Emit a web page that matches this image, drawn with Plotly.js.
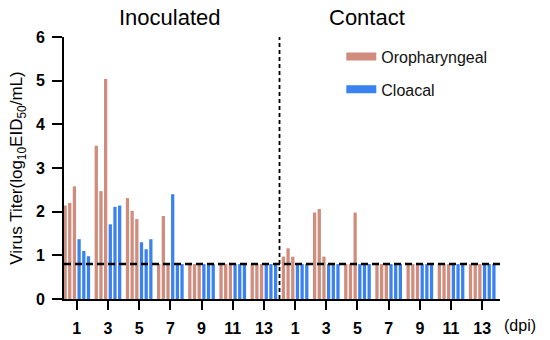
<!DOCTYPE html>
<html>
<head>
<meta charset="utf-8">
<script src="https://cdn.plot.ly/plotly-3.0.1.min.js"></script>
<style>html,body{margin:0;padding:0;background:#fff;}#chart{width:550px;height:340px;}</style>
</head>
<body>
<div id="chart"></div>
<script>
// ---- data ----
const dpiLabels = ['1', '3', '5', '7', '9', '11', '13'];
const groupNames = ['Inoculated', 'Contact'];
const LOD = 0.8;
// Oropharyngeal swabs, birds 1-3 (Inoculated dpi 1..13, then Contact dpi 1..13)
const oroBird1 = [2.14, 3.51, 2.31, 0.8, 0.8, 0.8, 0.8,   0.97, 1.98, 0.8, 0.8, 0.8, 0.8, 0.8];
const oroBird2 = [2.20, 2.47, 2.02, 1.90, 0.8, 0.8, 0.8,  1.16, 2.06, 0.8, 0.8, 0.8, 0.8, 0.8];
const oroBird3 = [2.58, 5.04, 1.83, 0.8, 0.8, 0.8, 0.8,   0.97, 0.97, 1.98, 0.8, 0.8, 0.8, 0.8];
// Cloacal swabs, birds 1-3
const cloBird1 = [1.37, 1.71, 1.30, 2.40, 0.8, 0.8, 0.8,  0.8, 0.8, 0.8, 0.8, 0.8, 0.8, 0.8];
const cloBird2 = [1.10, 2.11, 1.14, 0.8, 0.8, 0.8, 0.8,   0.8, 0.8, 0.8, 0.8, 0.8, 0.8, 0.8];
const cloBird3 = [0.98, 2.14, 1.37, 0.8, 0.8, 0.8, 0.8,   0.8, 0.8, 0.8, 0.8, 0.8, 0.8, 0.8];

// ---- build ----
const tickText = groupNames.flatMap(() => dpiLabels);
const xIdx = tickText.map((_, i) => i);
const oroColor = '#D08C7C';
const cloColor = '#3A82F0';

function barTrace(y, color, name) {
  return {type: 'bar', x: xIdx, y: y, name: name, marker: {color: color, line: {width: 0}},
          showlegend: false, hoverinfo: 'y'};
}
const traces = [
  barTrace(oroBird1, oroColor, 'Oropharyngeal'),
  barTrace(oroBird2, oroColor, 'Oropharyngeal'),
  barTrace(oroBird3, oroColor, 'Oropharyngeal'),
  barTrace(cloBird1, cloColor, 'Cloacal'),
  barTrace(cloBird2, cloColor, 'Cloacal'),
  barTrace(cloBird3, cloColor, 'Cloacal'),
  {type: 'scatter', mode: 'lines', x: [null], y: [null], name: 'Oropharyngeal',
   line: {color: oroColor, width: 8}, legendgroup: 'o', showlegend: true},
  {type: 'scatter', mode: 'lines', x: [null], y: [null], name: 'Cloacal',
   line: {color: cloColor, width: 8}, legendgroup: 'c', showlegend: true}
];

const nPerGroup = dpiLabels.length;
const font = 'Arial, "Liberation Sans", Helvetica, sans-serif';

const layout = {
  width: 550, height: 340, autosize: false,
  margin: {l: 64, r: 50, t: 37, b: 41},
  paper_bgcolor: '#fff', plot_bgcolor: '#fff',
  font: {family: font, color: '#000'},
  barmode: 'group', bargap: 0.1, bargroupgap: 0.3,
  showlegend: true,
  legend: {x: 0.636, y: 0.99, xanchor: 'left', yanchor: 'top', traceorder: 'grouped',
           tracegroupgap: 9, font: {size: 16, color: '#111'}, bgcolor: 'rgba(0,0,0,0)'},
  xaxis: {
    range: [-0.41, tickText.length - 0.43],
    tickmode: 'array', tickvals: xIdx, ticktext: tickText,
    tickfont: {size: 16, weight: 'bold'},
    ticks: 'outside', ticklen: 9, tickwidth: 2, tickcolor: '#000',
    ticklabelstandoff: 5,
    showline: true, linewidth: 2, linecolor: '#000',
    showgrid: false, zeroline: false, fixedrange: true
  },
  yaxis: {
    range: [0, 6], dtick: 1, tick0: 0,
    tickfont: {size: 16, weight: 'bold'},
    ticks: 'outside', ticklen: 10, tickwidth: 2, tickcolor: '#000',
    ticklabelstandoff: 4,
    showline: true, linewidth: 2, linecolor: '#000',
    showgrid: false, zeroline: false,
    title: {text: 'Virus Titer(log<sub>10</sub>EID<sub>50</sub>/mL)', font: {size: 17}, standoff: 9}
  },
  shapes: [
    {type: 'line', xref: 'paper', x0: 0, x1: 1, yref: 'y', y0: LOD, y1: LOD,
     line: {color: '#000', width: 2.5, dash: '7px,4px'}},
    {type: 'line', xref: 'x', x0: nPerGroup - 0.5, x1: nPerGroup - 0.5, yref: 'y', y0: 0, y1: 6,
     line: {color: '#000', width: 1.8, dash: '4px,3px'}}
  ],
  annotations: [
    {text: groupNames[0], xref: 'x', x: (nPerGroup - 1) / 2, yref: 'paper', y: 1.076,
     showarrow: false, font: {size: 22}, xanchor: 'center', yanchor: 'middle'},
    {text: groupNames[1], xref: 'x', x: nPerGroup + (nPerGroup - 1) / 2 - 0.7, yref: 'paper', y: 1.076,
     showarrow: false, font: {size: 22}, xanchor: 'center', yanchor: 'middle'},
    {text: '(dpi)', xref: 'paper', x: 1.005, yref: 'paper', y: -0.103,
     showarrow: false, font: {size: 16}, xanchor: 'left', yanchor: 'middle'}
  ]
};

Plotly.newPlot('chart', traces, layout, {displayModeBar: false, staticPlot: true});
</script>
</body>
</html>
